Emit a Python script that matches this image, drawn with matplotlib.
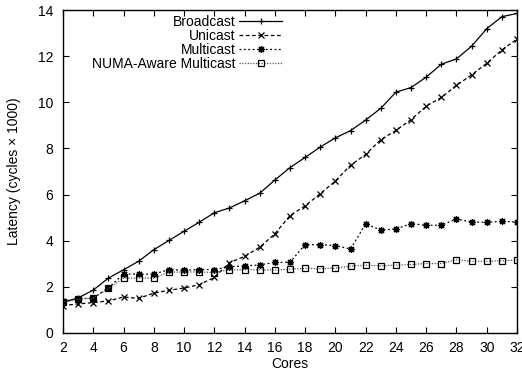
import numpy as np
import matplotlib.pyplot as plt

plt.rcParams['font.family'] = ['Liberation Sans', 'DejaVu Sans']
plt.rcParams['font.size'] = 10

cores = list(range(2, 33))

broadcast = [1.33, 1.52, 1.86, 2.38, 2.74, 3.11, 3.61, 4.01, 4.41, 4.80, 5.21,
             5.42, 5.73, 6.06, 6.63, 7.17, 7.61, 8.06, 8.46, 8.77, 9.23, 9.74,
             10.44, 10.64, 11.09, 11.65, 11.88, 12.43, 13.19, 13.71, 13.85]
unicast = [1.19, 1.26, 1.32, 1.39, 1.56, 1.50, 1.73, 1.85, 1.95, 2.09, 2.41,
           3.05, 3.32, 3.72, 4.30, 5.09, 5.51, 6.04, 6.59, 7.27, 7.74, 8.38,
           8.78, 9.25, 9.83, 10.21, 10.73, 11.19, 11.69, 12.27, 12.74]
multicast = [1.38, 1.48, 1.52, 1.95, 2.56, 2.55, 2.55, 2.75, 2.72, 2.75, 2.75,
             2.87, 2.91, 2.95, 3.06, 3.07, 3.83, 3.83, 3.79, 3.64, 4.73, 4.46,
             4.51, 4.74, 4.67, 4.67, 4.94, 4.81, 4.80, 4.84, 4.81]
numa = [1.33, 1.46, 1.52, 1.93, 2.38, 2.38, 2.38, 2.64, 2.64, 2.65, 2.62,
        2.74, 2.74, 2.74, 2.73, 2.77, 2.80, 2.79, 2.81, 2.90, 2.94, 2.91,
        2.94, 2.97, 3.01, 3.01, 3.17, 3.11, 3.11, 3.13, 3.16]

fig = plt.figure(figsize=(5.22, 3.74), dpi=100)
ax = fig.add_axes([63 / 522, 1 - 333 / 374, 454 / 522, 323 / 374])

ax.plot(cores, broadcast, '-', color='black', lw=0.9, marker='+', ms=5,
        mew=0.9, label='Broadcast')
ax.plot(cores, unicast, '--', color='black', lw=0.9, marker='x', ms=4.5,
        mew=0.9, dashes=(3, 2), label='Unicast')
ax.plot(cores, multicast, ':', color='black', lw=0.9, marker=(8, 2, 0),
        ms=5, mew=0.9, dashes=(1.5, 2), label='Multicast')
ax.plot(cores, numa, ':', color='#555555', lw=0.9, marker='s', ms=4.2,
        mew=0.9, mec='black', mfc='none', dashes=(1, 1.2),
        label='NUMA-Aware Multicast')

ax.set_xlim(2, 32)
ax.set_ylim(0, 14)
ax.set_xticks(range(2, 33, 2))
ax.set_yticks(range(0, 15, 2))
ax.tick_params(direction='in', top=True, right=True, length=4, width=0.8,
               labelsize=10)
ax.tick_params(axis='x', pad=5.5)
ax.tick_params(axis='y', pad=7)
for s in ax.spines.values():
    s.set_linewidth(1.0)

ax.set_xlabel('Cores', labelpad=2)
ax.set_ylabel('Latency (cycles \u00d7 1000)', labelpad=12)

leg = ax.legend(loc='upper left', bbox_to_anchor=(0.045, 1.01),
                frameon=False, markerfirst=False, handlelength=3.15,
                handletextpad=0.25, labelspacing=0.0, borderaxespad=0.2)
for t in leg.get_texts():
    t.set_ha('right')
leg._legend_box.align = 'right'

fig.savefig('out.png', dpi=100)
